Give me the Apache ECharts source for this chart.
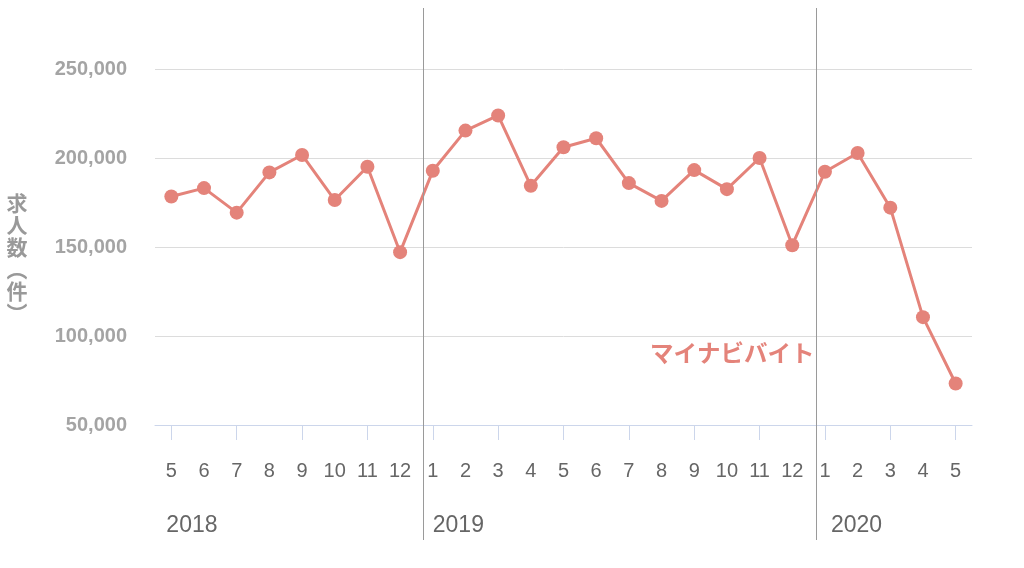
<!DOCTYPE html>
<html><head><meta charset="utf-8">
<script src="https://cdn.jsdelivr.net/npm/echarts@6/dist/echarts.min.js"></script>
<style>html,body{margin:0;padding:0;background:#fff}#c{width:1024px;height:568px}</style>
</head><body><div id="c"></div>
<script>
const months = ['5','6','7','8','9','10','11','12','1','2','3','4','5','6','7','8','9','10','11','12','1','2','3','4','5'];
const values = [178400,183100,169300,191900,201700,176400,195100,147100,192800,215400,223900,184400,206000,211100,185900,175900,193200,182500,200000,151000,192300,202800,172100,110600,73300];
const years = ['2018','2019','2020'];
const yearStartIndex = [0, 8, 20];
const yTicks = [50000, 100000, 150000, 200000, 250000];
const seriesName = 'マイナビバイト';
const axisName = '求\n人\n数\n︵\n件\n︶';
const color = '#e4837a';

const chart = echarts.init(document.getElementById('c'), null, {renderer:'canvas'});
const option = {
  animation:false,
  grid:{left:155, right:52, top:69, bottom:143},
  xAxis:{
    type:'category', data:months, boundaryGap:true,
    axisLine:{lineStyle:{color:'#ccd6eb', width:1}},
    axisTick:{show:true, interval:1, alignWithLabel:true, length:15, lineStyle:{color:'#ccd6eb'}},
    axisLabel:{interval:0, margin:36, color:'#666', fontSize:20, fontFamily:'Liberation Sans'},
    splitLine:{show:false}
  },
  yAxis:{
    type:'value', min:yTicks[0], max:yTicks[yTicks.length-1], interval:50000,
    axisLine:{show:false}, axisTick:{show:false},
    axisLabel:{margin:28, color:'#a4a4a4', fontSize:20, fontWeight:'bold', fontFamily:'Liberation Sans',
      formatter:v=>v.toLocaleString('en-US')},
    splitLine:{lineStyle:{color:'#dcdcdc', width:1}}
  },
  series:[{
    name:seriesName, type:'line', data:values,
    symbol:'circle', symbolSize:14,
    lineStyle:{color:color, width:3},
    itemStyle:{color:color},
    z:3
  }]
};
chart.setOption(option);

function px(i){ return chart.convertToPixel({xAxisIndex:0}, i); }
const graphics = [];
[yearStartIndex[1], yearStartIndex[2]].forEach(i=>{
  const x = Math.round((px(i-1)+px(i))/2 + 7) + 0.5;
  graphics.push({type:'line', shape:{x1:x, y1:8, x2:x, y2:540}, style:{stroke:'#9a9a9a', lineWidth:1}, z:10});
});
const yearOffsets = [-5, 0, 6];
years.forEach((y,k)=>{
  graphics.push({type:'text', x:px(yearStartIndex[k]) + yearOffsets[k], y:526,
    style:{text:y, fill:'#666', fontSize:23, fontFamily:'Liberation Sans', verticalAlign:'middle', align:'left'}});
});
graphics.push({type:'text', x:17, y:258,
  style:{text:axisName, fill:'#999', fontSize:21, fontWeight:'bold', fontFamily:'Noto Sans CJK JP', lineHeight:22, align:'center', verticalAlign:'middle'}});
graphics.push({type:'text', x:650, y:353,
  style:{text:seriesName, fill:color, fontSize:23.5, fontWeight:'bold', fontFamily:'Noto Sans CJK JP', align:'left', verticalAlign:'middle'}});
chart.setOption({graphic:graphics});
</script>
</body></html>
